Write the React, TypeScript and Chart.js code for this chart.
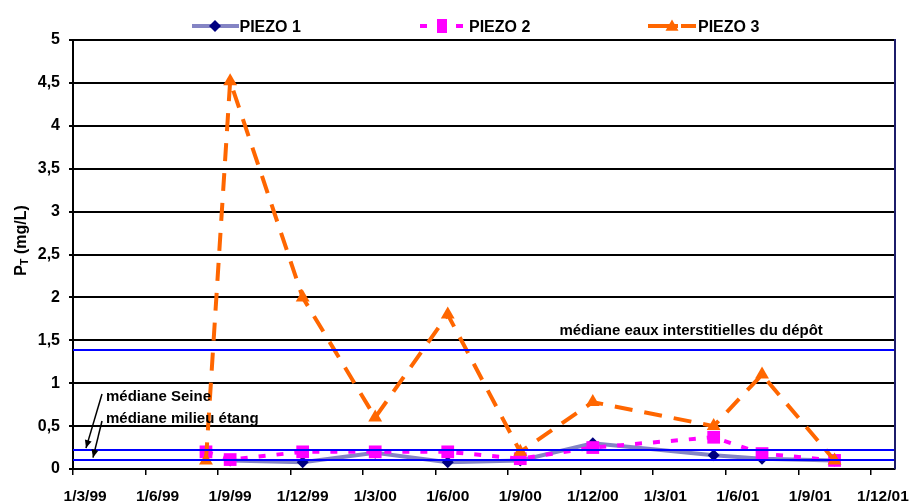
import React, { useEffect, useRef } from "react";
import { Chart, registerables } from "chart.js";

Chart.register(...registerables);

// ---- Data ----
// Monthly category axis (Excel date axis, base unit = month)
const months = [
  "1/3/99", "1/4/99", "1/5/99", "1/6/99", "1/7/99", "1/8/99", "1/9/99", "1/10/99", "1/11/99", "1/12/99",
  "1/1/00", "1/2/00", "1/3/00", "1/4/00", "1/5/00", "1/6/00", "1/7/00", "1/8/00", "1/9/00", "1/10/00",
  "1/11/00", "1/12/00", "1/1/01", "1/2/01", "1/3/01", "1/4/01", "1/5/01", "1/6/01", "1/7/01", "1/8/01",
  "1/9/01", "1/10/01", "1/11/01", "1/12/01",
];
const xTickLabels = ["1/3/99", "1/6/99", "1/9/99", "1/12/99", "1/3/00", "1/6/00", "1/9/00", "1/12/00", "1/3/01", "1/6/01", "1/9/01", "1/12/01"];
const sampleMonths = ["1/8/99", "1/9/99", "1/12/99", "1/3/00", "1/6/00", "1/9/00", "1/12/00", "1/5/01", "1/7/01", "1/10/01"];
const piezo1: (number | null)[] = [null, 0.1, 0.08, 0.19, 0.08, 0.1, 0.3, 0.16, 0.12, 0.1];
const piezo2: (number | null)[] = [0.2, 0.11, 0.2, 0.2, 0.2, 0.12, 0.25, 0.37, 0.18, 0.1];
const piezo3: (number | null)[] = [0.1, 4.52, 2.0, 0.6, 1.8, 0.2, 0.78, 0.5, 1.1, 0.1];
const seriesNames = ["PIEZO 1", "PIEZO 2", "PIEZO 3"];
const yRange = [0, 5];
const yStep = 0.5;
const medianValues = [1.39, 0.22, 0.11];
const medianLabels = ["médiane eaux interstitielles du dépôt", "médiane Seine", "médiane milieu étang"];
const yTitleMain = "P";
const yTitleSub = "T";
const yTitleRest = " (mg/L)";

// ---- Helpers ----
const FONT = "'Liberation Sans', Arial, Helvetica, sans-serif";
const toPoints = (vals: (number | null)[]) =>
  sampleMonths
    .map((m, i) => ({ x: m, y: vals[i] }))
    .filter((p) => p.y !== null) as { x: string; y: number }[];

const COL1_LINE = "#8484C4";
const COL1_PT = "#000080";
const COL2 = "#FF00FF";
const COL3 = "#FF6600";

function drawArrow(ctx: CanvasRenderingContext2D, x1: number, y1: number, x2: number, y2: number) {
  ctx.beginPath();
  ctx.moveTo(x1, y1);
  ctx.lineTo(x2, y2);
  ctx.stroke();
  const a = Math.atan2(y2 - y1, x2 - x1);
  const len = 8, wid = 3.5;
  ctx.beginPath();
  ctx.moveTo(x2, y2);
  ctx.lineTo(x2 - len * Math.cos(a) + wid * Math.sin(a), y2 - len * Math.sin(a) - wid * Math.cos(a));
  ctx.lineTo(x2 - len * Math.cos(a) - wid * Math.sin(a), y2 - len * Math.sin(a) + wid * Math.cos(a));
  ctx.closePath();
  ctx.fill();
}

const overlayPlugin = {
  id: "overlay",
  afterDatasetsDraw(chart: any) {
    const { ctx, chartArea: ca, scales } = chart;
    const y = scales.y;
    ctx.save();
    ctx.strokeStyle = "#0000FF";
    ctx.lineWidth = 2;
    medianValues.forEach((v) => {
      const py = Math.round(y.getPixelForValue(v));
      ctx.beginPath();
      ctx.moveTo(ca.left, py);
      ctx.lineTo(ca.right, py);
      ctx.stroke();
    });
    ctx.strokeStyle = "#1C1C6A";
    ctx.lineWidth = 2;
    ctx.beginPath();
    ctx.moveTo(ca.right, ca.top - 1);
    ctx.lineTo(ca.right, ca.bottom);
    ctx.stroke();
    ctx.restore();
  },
  afterDraw(chart: any) {
    const { ctx, chartArea: ca, scales } = chart;
    const y = scales.y;
    ctx.save();
    // annotation texts
    ctx.fillStyle = "#000";
    ctx.font = `bold 15px ${FONT}`;
    ctx.textBaseline = "middle";
    ctx.textAlign = "center";
    ctx.fillText(medianLabels[0], ca.left + 0.752 * (ca.right - ca.left), y.getPixelForValue(medianValues[0]) - 19);
    ctx.textAlign = "left";
    ctx.fillText(medianLabels[1], ca.left + 33, ca.bottom - 72);
    ctx.fillText(medianLabels[2], ca.left + 33, ca.bottom - 50);
    ctx.strokeStyle = "#000";
    ctx.lineWidth = 1.5;
    drawArrow(ctx, ca.left + 29, ca.bottom - 75, ca.left + 13, y.getPixelForValue(medianValues[1]) - 2);
    drawArrow(ctx, ca.left + 29, ca.bottom - 48, ca.left + 20, y.getPixelForValue(medianValues[2]) - 2);

    // y title with subscript
    ctx.save();
    ctx.translate(20, (ca.top + ca.bottom) / 2 - 14);
    ctx.rotate(-Math.PI / 2);
    ctx.textAlign = "left";
    ctx.textBaseline = "alphabetic";
    ctx.font = `bold 16px ${FONT}`;
    const wP = ctx.measureText(yTitleMain).width;
    const wR = ctx.measureText(yTitleRest).width;
    ctx.font = `bold 11px ${FONT}`;
    const wT = ctx.measureText(yTitleSub).width;
    const total = wP + wT + wR;
    let cx = -total / 2;
    ctx.font = `bold 16px ${FONT}`;
    ctx.fillText(yTitleMain, cx, 6);
    cx += wP;
    ctx.font = `bold 11px ${FONT}`;
    ctx.fillText(yTitleSub, cx, 8);
    cx += wT;
    ctx.font = `bold 16px ${FONT}`;
    ctx.fillText(yTitleRest, cx, 6);
    ctx.restore();

    // legend
    const legY = 26;
    ctx.lineCap = "butt";
    ctx.strokeStyle = COL1_LINE;
    ctx.lineWidth = 4;
    ctx.setLineDash([]);
    ctx.beginPath();
    ctx.moveTo(192, legY);
    ctx.lineTo(239, legY);
    ctx.stroke();
    ctx.fillStyle = COL1_PT;
    ctx.beginPath();
    ctx.moveTo(215 - 6, legY);
    ctx.lineTo(215, legY - 6);
    ctx.lineTo(215 + 6, legY);
    ctx.lineTo(215, legY + 6);
    ctx.closePath();
    ctx.fill();
    ctx.fillStyle = COL2;
    ctx.fillRect(420, legY - 2, 7, 4);
    ctx.fillRect(456, legY - 2, 7, 4);
    ctx.fillRect(437, legY - 7, 10, 14);
    ctx.strokeStyle = COL3;
    ctx.beginPath();
    ctx.moveTo(648, legY);
    ctx.lineTo(678, legY);
    ctx.moveTo(681, legY);
    ctx.lineTo(696, legY);
    ctx.stroke();
    ctx.fillStyle = COL3;
    const tr = 7.5, tcx = 672, tcy = legY + 1;
    ctx.beginPath();
    ctx.moveTo(tcx, tcy - tr);
    ctx.lineTo(tcx + tr * Math.sin((2 * Math.PI) / 3), tcy + tr / 2);
    ctx.lineTo(tcx - tr * Math.sin((2 * Math.PI) / 3), tcy + tr / 2);
    ctx.closePath();
    ctx.fill();
    ctx.fillStyle = "#000";
    ctx.font = `bold 16px ${FONT}`;
    ctx.textAlign = "left";
    ctx.textBaseline = "middle";
    [239.5, 469, 698].forEach((s, i) => ctx.fillText(seriesNames[i], s, legY + 2));
    ctx.restore();
  },
};

export default function App() {
  const ref = useRef<HTMLCanvasElement>(null);
  useEffect(() => {
    const canvas = ref.current!;
    const showTick = (i: number) => xTickLabels.includes(months[i]);
    const chart = new Chart(canvas, {
      type: "line",
      data: {
        labels: months,
        datasets: [
          {
            label: seriesNames[0],
            data: toPoints(piezo1) as any,
            borderColor: COL1_LINE,
            borderWidth: 4,
            pointStyle: "rectRot",
            pointRadius: 6,
            pointBackgroundColor: COL1_PT,
            pointBorderColor: COL1_PT,
            pointBorderWidth: 0,
            order: 3,
          },
          {
            label: seriesNames[1],
            data: toPoints(piezo2) as any,
            borderColor: COL2,
            borderWidth: 4,
            borderDash: [7, 11],
            pointStyle: "rect",
            pointRadius: 9,
            pointBackgroundColor: COL2,
            pointBorderColor: COL2,
            pointBorderWidth: 0,
            order: 2,
          },
          {
            label: seriesNames[2],
            data: toPoints(piezo3) as any,
            borderColor: COL3,
            borderWidth: 4,
            borderDash: [18, 12],
            pointStyle: "triangle",
            pointRadius: 8,
            pointBackgroundColor: COL3,
            pointBorderColor: COL3,
            pointBorderWidth: 0,
            order: 1,
          },
        ],
      },
      options: {
        responsive: false,
        animation: false,
        devicePixelRatio: 1,
        layout: { padding: { top: 40, right: 18, left: 0, bottom: 0 } },
        plugins: {
          legend: { display: false },
          tooltip: { enabled: false },
          title: { display: false },
        },
        scales: {
          x: {
            type: "category",
            offset: true,
            afterFit: (s: any) => {
              s.height = 33;
              s.paddingLeft = 0;
              s.paddingRight = 0;
            },
            ticks: {
              autoSkip: false,
              maxRotation: 0,
              minRotation: 0,
              color: "#000",
              padding: 12,
              font: { family: FONT, size: 15.5, weight: "bold" },
              callback: (_v: any, i: number) => (showTick(i) ? months[i] : ""),
            },
            grid: {
              offset: true,
              drawOnChartArea: false,
              drawTicks: true,
              tickLength: 6,
              lineWidth: 1.5,
              color: (c: any) => (c.index !== undefined && showTick(c.index) ? "#000" : "rgba(0,0,0,0)"),
            },
            border: { display: true, color: "#000", width: 2 },
          },
          y: {
            min: yRange[0],
            max: yRange[1],
            afterFit: (s: any) => {
              s.width = 73;
              s.paddingTop = 0;
              s.paddingBottom = 0;
            },
            ticks: {
              stepSize: yStep,
              color: "#000",
              padding: 9,
              font: { family: FONT, size: 16, weight: "bold" },
              callback: (v: any) => String(v).replace(".", ","),
            },
            grid: { color: "#000", lineWidth: 2, tickLength: 4, drawTicks: true },
            border: { display: true, color: "#000", width: 2 },
          },
        },
      },
      plugins: [overlayPlugin],
    });
    return () => chart.destroy();
  }, []);
  return (
    <div style={{ position: "absolute", left: 0, top: 0, width: 913, height: 502, background: "#fff" }}>
      <canvas ref={ref} width={913} height={502} style={{ display: "block", width: 913, height: 502 }} />
    </div>
  );
}
